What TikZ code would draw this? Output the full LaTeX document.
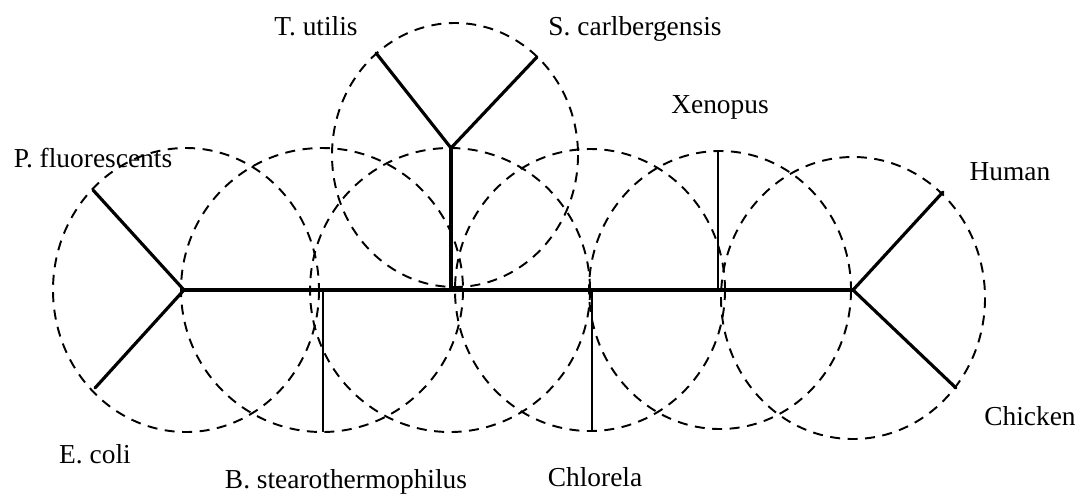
\documentclass[tikz,border=0pt]{standalone}
\usepackage{fontspec}
\setmainfont{Liberation Serif}
\usetikzlibrary{positioning}

\begin{document}
\begin{tikzpicture}[
        x=0.02cm, y=-0.02cm,
        branch/.style={line width=1.8pt, line cap=round},
        stub/.style={line width=1.3pt},
        ring/.style={dash pattern=on 0.2cm off 0.15cm, line width=1.1pt},
        taxon/.style={font=\fontsize{15.6}{18}\selectfont, inner sep=0pt, anchor=base}
    ]
        \useasboundingbox (0,0) rectangle (1077,494);

        % Junctions
        \coordinate (pj) at (184,290);
        \coordinate (bj) at (323,290);
        \coordinate (cj) at (451,290);
        \coordinate (dj) at (592,290);
        \coordinate (xj) at (718,290);
        \coordinate (hj) at (853,290);
        \coordinate (yj) at (451,148);

        % Leaf ends
        \coordinate (pf) at (93,190);
        \coordinate (ec) at (95,388);
        \coordinate (bs) at (323,432);
        \coordinate (tu) at (376,53);
        \coordinate (sc) at (537,57);
        \coordinate (ch) at (592,432);
        \coordinate (xe) at (718,151);
        \coordinate (hu) at (943,192);
        \coordinate (ck) at (956,388);

        % Dashed circles
        \draw[ring] (186,290) ellipse [x radius=133, y radius=142];
        \draw[ring] (322,290) ellipse [x radius=141, y radius=142];
        \draw[ring] (450,290) ellipse [x radius=140, y radius=142];
        \draw[ring] (590,290) ellipse [x radius=135, y radius=141];
        \draw[ring] (720,290) ellipse [x radius=131, y radius=139];
        \draw[ring] (853,298) ellipse [x radius=132, y radius=141];
        \draw[ring] (455,155) ellipse [x radius=123, y radius=132];

        % Tree
        \draw[branch] (pj) -- (hj);
        \draw[branch] (pf) -- (pj) -- (ec);
        \draw[branch] (hu) -- (hj) -- (ck);
        \draw[branch] (tu) -- (yj) -- (sc);
        \draw[branch] (yj) -- (cj);
        \draw[stub] (bj) -- (bs);
        \draw[stub] (dj) -- (ch);
        \draw[stub] (xj) -- (xe);

        % Labels
        \node[taxon] (tul) at (316,35) {T. utilis};
        \node[taxon] (scl) at (635,35) {S. carlbergensis};
        \node[taxon] (xel) at (720,113) {Xenopus};
        \node[taxon] (pfl) at (93,167) {P. fluorescents};
        \node[taxon] (hul) at (1010,180) {Human};
        \node[taxon] (ecl) at (95,463) {E. coli};
        \node[taxon] (bsl) at (346,488) {B. stearothermophilus};
        \node[taxon] (chl) at (595,486) {Chlorela};
        \node[taxon] (ckl) at (1030,425) {Chicken};
    \end{tikzpicture}
\end{document}
